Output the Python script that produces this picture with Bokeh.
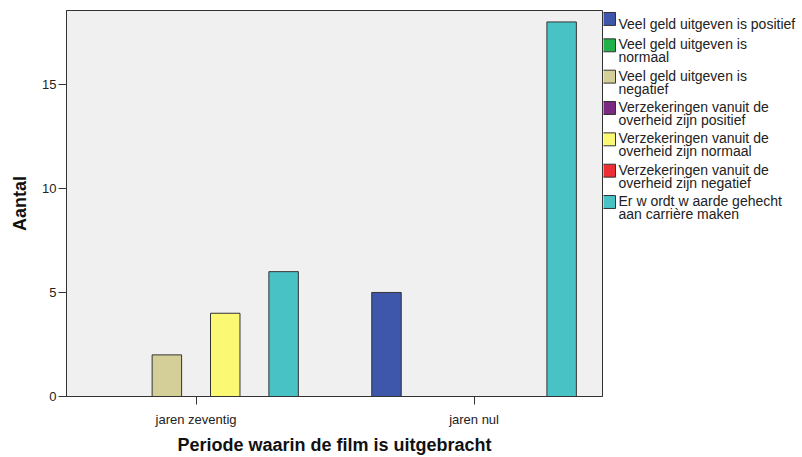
from bokeh.plotting import figure
from bokeh.layouts import row
from bokeh.models import ColumnDataSource, FixedTicker, Range1d
from bokeh.core.properties import value
from bokeh.embed import file_html
from bokeh.resources import INLINE

# Data: counts per release period for each statement
periods = ["jaren zeventig", "jaren nul"]
statements = [
    "Veel geld uitgeven is positief",
    "Veel geld uitgeven is\nnormaal",
    "Veel geld uitgeven is\nnegatief",
    "Verzekeringen vanuit de\noverheid zijn positief",
    "Verzekeringen vanuit de\noverheid zijn normaal",
    "Verzekeringen vanuit de\noverheid zijn negatief",
    "Er w ordt w aarde gehecht\naan carrière maken",
]
colors = ["#3E57AA", "#22B04A", "#D4CF98", "#7A2A80", "#FBF874", "#EC2E35", "#49C2C6"]
counts_zeventig = [0, 0, 2, 0, 4, 0, 6]
counts_nul = [5, 0, 0, 0, 0, 0, 18]
y_ticks = [0, 5, 10, 15]

FONT = "Liberation Sans"
TEXT = "#222222"
EDGE = "#333333"

counts = [counts_zeventig, counts_nul]

# Only statements that occur somewhere get a slot in each cluster
used = [i for i in range(len(statements)) if any(c[i] > 0 for c in counts)]
slot_step = 0.21
bar_w = 0.106
n = len(used)

xs, tops, fills = [], [], []
for g, c in enumerate(counts):
    for k, i in enumerate(used):
        if c[i] > 0:
            xs.append(g + (k - (n - 1) / 2) * slot_step)
            tops.append(c[i])
            fills.append(colors[i])

src = ColumnDataSource(dict(x=xs, top=tops, color=fills))

BORDER_TOP, BORDER_BOTTOM = 10, 59
HEIGHT = 457

p = figure(
    width=603, height=HEIGHT,
    x_range=Range1d(-0.466, 1.462), y_range=Range1d(0, 18.55),
    output_backend="svg", toolbar_location=None,
    min_border_left=66, min_border_right=1,
    min_border_top=BORDER_TOP, min_border_bottom=BORDER_BOTTOM,
)
p.background_fill_color = "#F0F0F0"
p.border_fill_color = "white"
p.outline_line_color = EDGE
p.outline_line_width = 1
p.grid.visible = False

p.vbar(x="x", top="top", width=bar_w, bottom=0, fill_color="color",
       line_color=EDGE, line_width=1, source=src)

p.xaxis.ticker = FixedTicker(ticks=list(range(len(periods))))
p.xaxis.major_label_overrides = {i: name for i, name in enumerate(periods)}
p.yaxis.ticker = FixedTicker(ticks=y_ticks)

for ax in (p.xaxis[0], p.yaxis[0]):
    ax.axis_line_color = EDGE
    ax.major_tick_line_color = EDGE
    ax.major_tick_out = 8
    ax.major_tick_in = 0
    ax.minor_tick_line_color = None
    ax.major_label_text_font = FONT
    ax.major_label_text_font_size = "13px"
    ax.major_label_text_color = TEXT
    ax.axis_label_text_font = FONT
    ax.axis_label_text_font_style = "bold"
    ax.axis_label_text_font_size = "18px"
    ax.axis_label_text_color = "#111111"

p.xaxis.axis_label = "Periode waarin de film is uitgebracht"
p.yaxis.axis_label = "Aantal"
p.xaxis.major_label_standoff = 7
p.yaxis.major_label_standoff = 2
p.xaxis.axis_label_standoff = 5
p.yaxis.axis_label_standoff = 9

# Legend panel: its frame shares the main frame's top and bottom, and the
# y range maps straight onto page pixels (y grows downward)
LW = 199
leg = figure(
    width=LW, height=HEIGHT,
    x_range=Range1d(0, LW), y_range=Range1d(HEIGHT - BORDER_BOTTOM, BORDER_TOP),
    output_backend="svg", toolbar_location=None,
    x_axis_location=None, y_axis_location=None,
    min_border_left=0, min_border_right=0,
    min_border_top=BORDER_TOP, min_border_bottom=BORDER_BOTTOM,
)
leg.grid.visible = False
leg.outline_line_color = None
leg.background_fill_color = "white"
leg.border_fill_color = "white"

pitch = 13.0    # distance between wrapped lines
center = 19.0   # vertical centre of the first line of the current entry
sq_top, sq_bot, sq_col = [], [], []
tx, ty, lines_out = [], [], []
for name, col in zip(statements, colors):
    parts = name.split("\n")
    for j, line in enumerate(parts):
        tx.append(15)
        ty.append(center + 5 + j * pitch)
        lines_out.append(line)
    mid = center + (len(parts) - 1) * pitch / 2 - 0.5
    sq_top.append(mid - 6.5)
    sq_bot.append(mid + 6.5)
    sq_col.append(col)
    center += 8.5 + 11.5 * len(parts)

leg.quad(left=-1, right=12, top=sq_top, bottom=sq_bot, fill_color=sq_col,
         line_color=EDGE, line_width=1)
leg.text(x=tx, y=ty, text=lines_out, text_font=value(FONT), text_font_size="14px",
         text_color=TEXT, text_baseline="alphabetic", text_align="left")

layout = row(p, leg)
open("out.html", "w").write(file_html(layout, INLINE))
